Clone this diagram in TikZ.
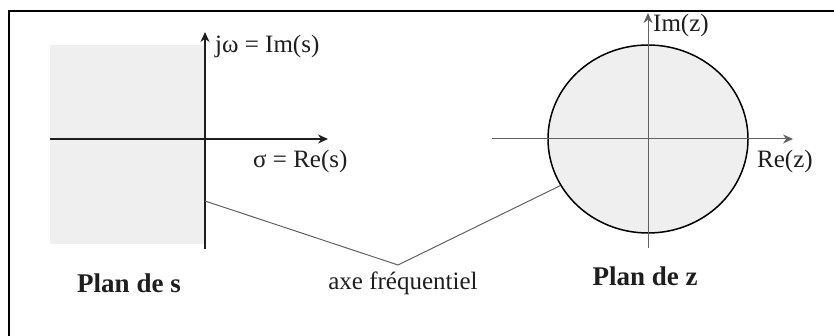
\documentclass[tikz,border=0pt]{standalone}
\usepackage{fontspec}
\setmainfont{Liberation Serif}
\usetikzlibrary{arrows.meta,shapes.geometric}
\definecolor{regfill}{HTML}{EFEFEF}
\definecolor{inkc}{HTML}{1E1E1E}
\begin{document}
\begin{tikzpicture}[x=1pt,y=-1pt,
  lbl/.style={inner sep=0pt,text=inkc,font=\fontsize{25}{29}\selectfont},
  title/.style={inner sep=0pt,text=inkc,font=\fontsize{27}{31}\selectfont\bfseries},
  saxis/.style={draw=inkc,line width=1.3pt,-{Stealth[length=10pt,width=9pt]}},
  zaxis/.style={draw=black!62,line width=1pt,-{Stealth[length=10pt,width=9pt]}},
  link/.style={draw=black!62,line width=1pt}]
\useasboundingbox (0,0) rectangle (834,336);
\fill[white] (0,0) rectangle (834,336);
% frame
\draw[line width=2.5pt,black] (9,336) -- (9,10.5);
\draw[line width=1.4pt,black] (8,11) -- (834,11);
% s-plane
\node[rectangle,fill=regfill,inner sep=0pt,minimum width=154pt,minimum height=199pt,anchor=north west] (sreg) at (50,45) {};
\coordinate (sxl) at (50,139);
\coordinate (sxr) at (328,139);
\coordinate (syb) at (205,249);
\coordinate (syt) at (205,32);
\draw[saxis] (sxl) -- (sxr);
\draw[saxis] (syb) -- (syt);
\node[lbl,anchor=west] (imS) at (215,46) {jω = Im(s)};
\node[lbl,anchor=west] (reS) at (253,161) {σ = Re(s)};
\node[title] (plans) at (129,283) {Plan de s};
% z-plane
\node[ellipse,draw=black,line width=1.5pt,fill=regfill,inner sep=0pt,minimum width=200pt,minimum height=188pt] (circ) at (648,139) {};
\coordinate (zxl) at (492,139);
\coordinate (zxr) at (793,139);
\coordinate (zyb) at (648,248);
\coordinate (zyt) at (648,13);
\draw[zaxis] (zxl) -- (zxr);
\draw[zaxis] (zyb) -- (zyt);
\node[lbl,anchor=west] (imZ) at (653,25) {Im(z)};
\node[lbl,anchor=west] (reZ) at (757,161) {Re(z)};
\node[title] (planz) at (645,276) {Plan de z};
% frequency axis link
\coordinate (fs) at (205,201);
\coordinate (vx) at (398,265);
\node[lbl] (axe) at (403,283) {axe fréquentiel};
\draw[link] (fs) -- (vx) -- (circ.208);
\end{tikzpicture}
\end{document}
